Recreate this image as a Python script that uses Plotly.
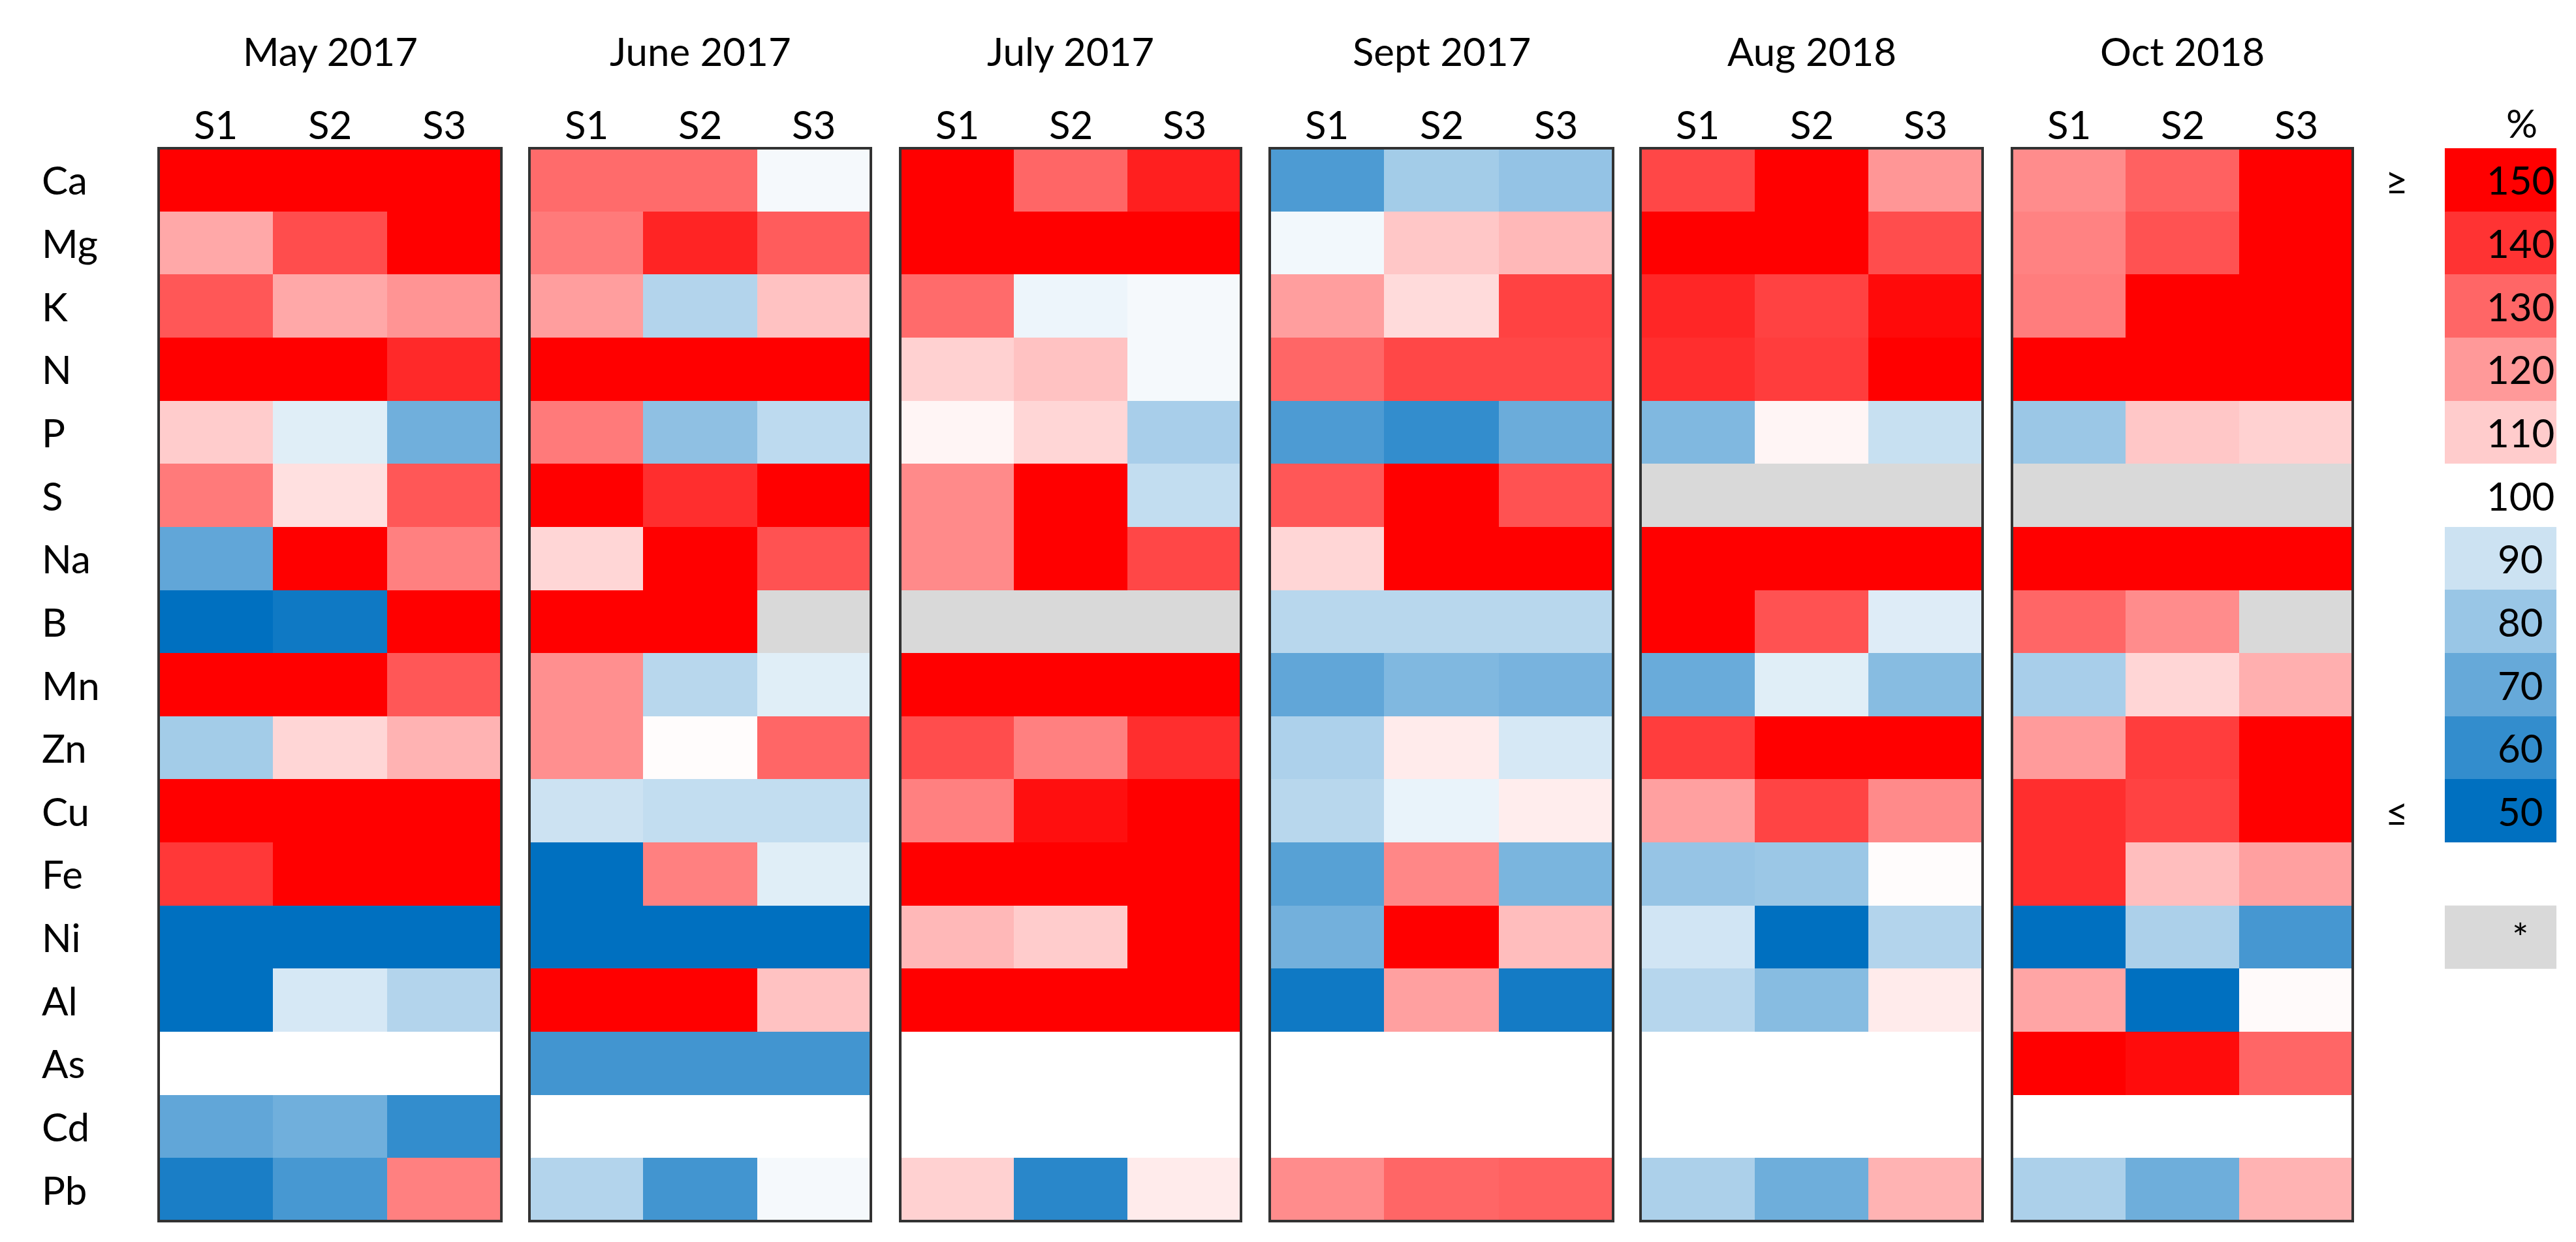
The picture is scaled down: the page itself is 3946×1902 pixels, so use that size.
import plotly.graph_objects as go

W, H = 3946, 1902

elements = ["Ca", "Mg", "K", "N", "P", "S", "Na", "B", "Mn", "Zn", "Cu", "Fe", "Ni", "Al", "As", "Cd", "Pb"]
sites = ["S1", "S2", "S3"]
periods = ["May 2017", "June 2017", "July 2017", "Sept 2017", "Aug 2018", "Oct 2018"]

N_ = None
may_2017 = [
    [160, 160, 160], [117, 135, 151], [133, 117, 121], [160, 160, 142], [110, 94, 72],
    [126, 106, 133], [69, 160, 125], [45, 53, 160], [160, 160, 133], [82, 108, 115],
    [160, 160, 160], [139, 160, 160], [45, 45, 45], [45, 92, 85], [100, 100, 100],
    [69, 72, 60], [55, 64, 125],
]
june_2017 = [
    [129, 129, 98], [126, 143, 132], [119, 85, 112], [160, 160, 160], [126, 78, 87],
    [160, 141, 160], [108, 160, 134], [160, 160, N_], [122, 86, 94], [122, 100.5, 130],
    [90, 88, 88], [46, 125, 94], [45, 45, 45], [160, 160, 112], [63, 63, 63],
    [100, 100, 100], [85, 63, 98],
]
july_2017 = [
    [160, 130, 144], [160, 160, 160], [129, 96.5, 98], [109, 112, 98], [102, 108, 83],
    [123, 160, 88], [123, 160, 136], [N_, N_, N_], [160, 160, 160], [135, 125, 141],
    [125, 147, 160], [160, 160, 160], [114, 110, 160], [160, 160, 160], [100, 100, 100],
    [100, 100, 100], [109, 58, 104],
]
sept_2017 = [
    [65, 82, 79], [97.5, 111, 114], [119, 107, 137], [130, 136, 136], [65, 60, 71],
    [133, 160, 134], [108, 160, 160], [86, 86, 86], [69, 75, 73.5], [84, 104, 92],
    [86, 95.7, 103.5], [67, 123.5, 74], [72.5, 160, 113], [53, 118.6, 54], [100, 100, 100],
    [100, 100, 100], [122.5, 130, 131],
]
aug_2018 = [
    [136, 160, 120.6], [160, 160, 135], [142.5, 137, 148], [141, 138, 151], [75, 102, 89],
    [N_, N_, N_], [160, 160, 160], [160, 134, 93.5], [70.6, 94, 76.5], [138, 160, 160],
    [118.6, 136.7, 123], [79.4, 80.4, 100.5], [91, 45, 85], [85.7, 76.5, 104], [100, 100, 100],
    [100, 100, 100], [83.7, 71.6, 115],
]
oct_2018 = [
    [122.5, 131, 160], [124.5, 134, 160], [125.5, 160, 160], [160, 160, 160], [80.4, 111, 109],
    [N_, N_, N_], [160, 160, 160], [130, 122.5, N_], [83, 108, 115.7], [119.6, 138, 160],
    [141, 137, 160], [141, 112.7, 118.6], [45, 83.7, 63.7], [117.6, 45, 101], [160, 147.6, 130],
    [100, 100, 100], [83.7, 71.6, 115],
]
panels = [may_2017, june_2017, july_2017, sept_2017, aug_2018, oct_2018]

legend_values = [150, 140, 130, 120, 110, 100, 90, 80, 70, 60, 50]
legend_labels = ["150", "140", "130", "120", "110", "100", "90", "80", "70", "60", "50"]
missing_label = "*"

colorscale = [[0.0, "rgb(0,112,192)"], [0.5, "rgb(255,255,255)"], [1.0, "rgb(255,0,0)"]]
FONT = "Lato"
FS = 60

# pixel layout
panel_x = [(235, 760), (803, 1326), (1371, 1893), (1937, 2463), (2505, 3029), (3074, 3596)]
top_px, bot_px = 219, 1862
row_h = (bot_px - top_px) / 17.0
leg_x = (3737, 3908)

def px2x(p):
    return p / W

def px2y(p):
    return 1 - p / H

fig = go.Figure()
layout = dict(
    width=W, height=H, margin=dict(l=0, r=0, t=0, b=0),
    paper_bgcolor="white", plot_bgcolor="rgb(217,217,217)",
    font=dict(family=FONT, size=FS, color="black"),
    showlegend=False,
)
annotations = []
shapes = []

for i, (z, (x0, x1)) in enumerate(zip(panels, panel_x)):
    n = i + 1
    xa = "x" if n == 1 else f"x{n}"
    ya = "y" if n == 1 else f"y{n}"
    fig.add_trace(go.Heatmap(
        z=z, x=sites, y=elements, xaxis=xa, yaxis=ya,
        colorscale=colorscale, zmin=50, zmax=150, showscale=False,
        hoverongaps=False,
    ))
    layout["xaxis" if n == 1 else f"xaxis{n}"] = dict(
        domain=[px2x(x0), px2x(x1)], anchor=ya, side="top", type="category",
        showgrid=False, zeroline=False, showline=False, ticks="",
        showticklabels=False, range=[-0.5, 2.5],
    )
    layout["yaxis" if n == 1 else f"yaxis{n}"] = dict(
        domain=[px2y(bot_px), px2y(top_px)], anchor=xa, type="category",
        showgrid=False, zeroline=False, showline=False, ticks="",
        showticklabels=False, range=[16.5, -0.5],
    )
    # title
    annotations.append(dict(
        text=periods[i], xref="paper", yref="paper", x=px2x((x0 + x1) / 2), y=px2y(70),
        xanchor="center", yanchor="middle", showarrow=False, font=dict(size=FS),
    ))
    # site labels
    for s in sites:
        annotations.append(dict(
            text=s, xref=xa, yref="paper", x=s, y=px2y(182),
            xanchor="center", yanchor="middle", showarrow=False, font=dict(size=FS),
        ))
    shapes.append(dict(
        type="rect", xref="paper", yref="paper",
        x0=px2x(x0), x1=px2x(x1), y0=px2y(bot_px), y1=px2y(top_px),
        line=dict(color="rgb(50,50,50)", width=4), layer="above",
    ))

# element labels (left aligned)
for el in elements:
    annotations.append(dict(
        text=el, xref="paper", yref="y", x=px2x(54), y=el,
        xanchor="left", yanchor="middle", showarrow=False, font=dict(size=FS),
    ))

# legend scale
fig.add_trace(go.Heatmap(
    z=[[v] for v in legend_values], x=["L"], y=list(range(len(legend_values))),
    xaxis="x7", yaxis="y7",
    colorscale=colorscale, zmin=50, zmax=150, showscale=False, hoverinfo="skip",
))
layout["xaxis7"] = dict(domain=[px2x(leg_x[0]), px2x(leg_x[1])], anchor="y7", type="category",
                        showgrid=False, zeroline=False, showticklabels=False, ticks="")
leg_bot = top_px + 11 * row_h
layout["yaxis7"] = dict(domain=[px2y(leg_bot), px2y(top_px)], anchor="x7",
                        showgrid=False, zeroline=False, showticklabels=False, ticks="",
                        range=[10.5, -0.5])
for j, lab in enumerate(legend_labels):
    annotations.append(dict(
        text=lab, xref="paper", yref="y7", x=px2x(3853), y=j,
        xanchor="center", yanchor="middle", showarrow=False, font=dict(size=FS),
    ))

# missing-value box
gray_top = top_px + 12 * row_h
fig.add_trace(go.Heatmap(
    z=[[0]], x=["M"], y=[missing_label], xaxis="x8", yaxis="y8",
    colorscale=[[0, "rgb(217,217,217)"], [1, "rgb(217,217,217)"]], showscale=False,
    hoverinfo="skip",
))
layout["xaxis8"] = dict(domain=[px2x(leg_x[0]), px2x(leg_x[1])], anchor="y8", type="category",
                        showgrid=False, zeroline=False, showticklabels=False, ticks="")
layout["yaxis8"] = dict(domain=[px2y(gray_top + row_h), px2y(gray_top)], anchor="x8", type="category",
                        showgrid=False, zeroline=False, showticklabels=False, ticks="")
annotations.append(dict(
    text=missing_label, xref="paper", yref="y8", x=px2x(3853), y=missing_label,
    xanchor="center", yanchor="middle", showarrow=False, font=dict(size=FS),
))

annotations.append(dict(text="%", xref="paper", yref="paper", x=px2x(3855), y=px2y(180),
                        xanchor="center", yanchor="middle", showarrow=False, font=dict(size=FS)))
annotations.append(dict(text="≥", xref="paper", yref="y7", x=px2x(3663), y=0,
                        xanchor="center", yanchor="middle", showarrow=False, font=dict(size=FS)))
annotations.append(dict(text="≤", xref="paper", yref="y7", x=px2x(3663), y=len(legend_values) - 1,
                        xanchor="center", yanchor="middle", showarrow=False, font=dict(size=FS)))

layout["annotations"] = annotations
layout["shapes"] = shapes
fig.update_layout(**layout)
fig.write_html("out.html")
